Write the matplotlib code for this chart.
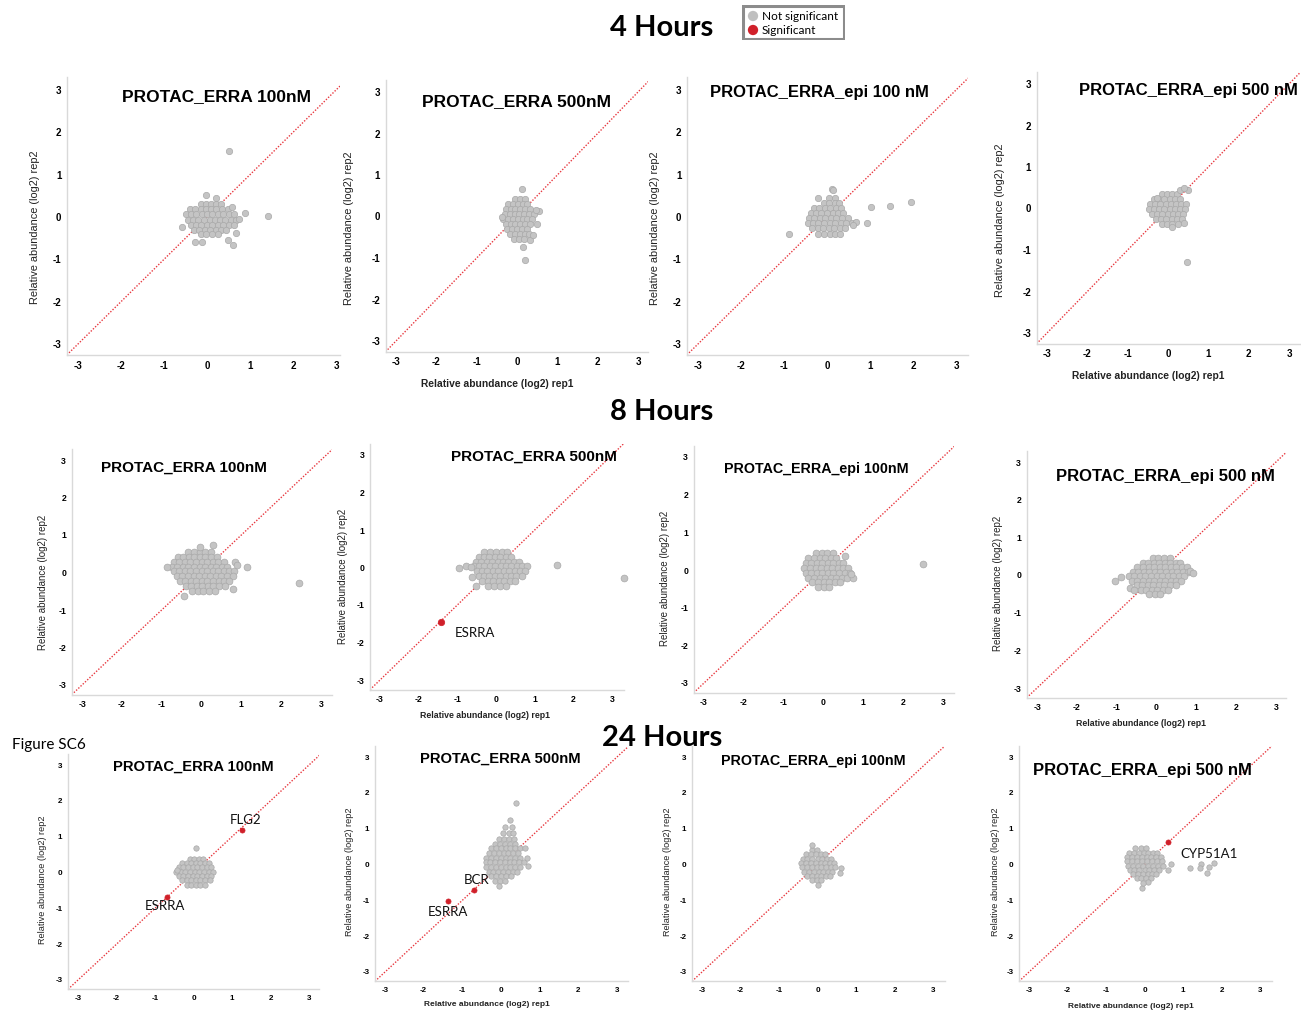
import matplotlib
matplotlib.use("Agg")
import matplotlib.pyplot as plt
from matplotlib.patches import Rectangle

W, H = 1301, 1011

# ---- values: x = log2 rep1, y = log2 rep2 ----
# dense clusters are stored as rows: (rep2, [rep1 values along that row])

# 4 hours
h4_erra100_rows = [
    (0.30, [-0.15, -0.02, 0.1, 0.2, 0.32]),
    (0.18, [-0.4, -0.28, -0.15, -0.03, 0.1, 0.22, 0.35, 0.48]),
    (0.06, [-0.5, -0.38, -0.25, -0.12, 0.0, 0.12, 0.25, 0.38, 0.5, 0.62]),
    (-0.06, [-0.45, -0.32, -0.2, -0.07, 0.06, 0.18, 0.3, 0.43, 0.55, 0.68]),
    (-0.18, [-0.38, -0.26, -0.13, 0.0, 0.12, 0.25, 0.37, 0.5, 0.62]),
    (-0.30, [-0.3, -0.18, -0.05, 0.08, 0.2, 0.33, 0.45]),
    (-0.40, [-0.15, -0.02, 0.12, 0.25]),
]
h4_erra100_out = [(0.52, 1.56), (-0.03, 0.53), (0.22, 0.45), (1.42, 0.02), (0.88, 0.1),
                  (0.58, 0.23), (-0.58, -0.24), (-0.27, -0.6), (-0.12, -0.6), (0.6, -0.66),
                  (0.48, -0.55), (0.68, -0.37), (0.75, -0.05)]

h4_erra500_rows = [
    (0.42, [-0.05, 0.08, 0.2]),
    (0.30, [-0.22, -0.1, 0.02, 0.14, 0.26]),
    (0.18, [-0.28, -0.16, -0.04, 0.08, 0.2, 0.32]),
    (0.06, [-0.3, -0.18, -0.06, 0.06, 0.18, 0.3, 0.42]),
    (-0.06, [-0.35, -0.22, -0.1, 0.02, 0.14, 0.26, 0.38]),
    (-0.18, [-0.28, -0.16, -0.04, 0.08, 0.2, 0.32]),
    (-0.30, [-0.25, -0.12, 0.0, 0.12, 0.24]),
    (-0.42, [-0.18, -0.05, 0.08, 0.2, 0.3]),
    (-0.54, [-0.08, 0.06, 0.18]),
]
h4_erra500_out = [(0.12, 0.66), (0.2, -1.06), (0.55, 0.14), (0.48, 0.16), (0.5, -0.19),
                  (0.16, -0.73), (0.32, -0.57), (-0.38, 0.0), (0.4, -0.45)]

h4_epi100_rows = [
    (0.45, [0.05, 0.18]),
    (0.33, [-0.08, 0.05, 0.18, 0.28]),
    (0.21, [-0.3, -0.18, -0.05, 0.08, 0.2, 0.32]),
    (0.09, [-0.38, -0.26, -0.13, 0.0, 0.13, 0.26, 0.38]),
    (-0.03, [-0.42, -0.3, -0.17, -0.04, 0.09, 0.22, 0.35, 0.48]),
    (-0.15, [-0.45, -0.33, -0.2, -0.07, 0.06, 0.19, 0.32, 0.45, 0.58]),
    (-0.27, [-0.35, -0.22, -0.09, 0.04, 0.17, 0.3, 0.43]),
    (-0.39, [-0.2, -0.07, 0.06, 0.19, 0.3]),
]
h4_epi100_out = [(-0.88, -0.39), (1.02, 0.24), (1.47, 0.26), (1.95, 0.35), (0.93, -0.13),
                 (0.11, 0.66), (0.15, 0.63), (-0.2, 0.46), (0.67, -0.11), (0.6, -0.2)]

h4_epi500_rows = [
    (0.35, [-0.15, -0.02, 0.1, 0.22]),
    (0.23, [-0.35, -0.22, -0.09, 0.04, 0.17, 0.3]),
    (0.11, [-0.45, -0.32, -0.19, -0.06, 0.07, 0.2, 0.33, 0.45]),
    (-0.01, [-0.48, -0.35, -0.22, -0.09, 0.04, 0.17, 0.3, 0.43]),
    (-0.13, [-0.4, -0.27, -0.14, -0.01, 0.12, 0.25, 0.38]),
    (-0.25, [-0.3, -0.17, -0.04, 0.09, 0.22, 0.34]),
    (-0.37, [-0.15, -0.02, 0.11, 0.24]),
]
h4_epi500_out = [(0.46, -1.3), (0.3, 0.45), (0.5, 0.45), (0.4, 0.5), (-0.28, 0.26),
                 (0.4, -0.34), (0.1, -0.45)]

# 8 hours
h8_erra100_rows = [
    (0.55, [-0.35, -0.2, -0.05, 0.1, 0.25]),
    (0.42, [-0.6, -0.46, -0.32, -0.18, -0.04, 0.1, 0.24, 0.38]),
    (0.29, [-0.7, -0.56, -0.42, -0.28, -0.14, 0.0, 0.14, 0.28, 0.42, 0.56]),
    (0.16, [-0.75, -0.61, -0.47, -0.33, -0.19, -0.05, 0.09, 0.23, 0.37, 0.51, 0.65]),
    (0.03, [-0.7, -0.56, -0.42, -0.28, -0.14, 0.0, 0.14, 0.28, 0.42, 0.56, 0.7, 0.82]),
    (-0.10, [-0.62, -0.48, -0.34, -0.2, -0.06, 0.08, 0.22, 0.36, 0.5, 0.64, 0.78]),
    (-0.23, [-0.55, -0.41, -0.27, -0.13, 0.01, 0.15, 0.29, 0.43, 0.57, 0.7]),
    (-0.36, [-0.4, -0.26, -0.12, 0.02, 0.16, 0.3, 0.44, 0.58]),
    (-0.48, [-0.25, -0.1, 0.05, 0.2, 0.35]),
]
h8_erra100_out = [(2.46, -0.27), (1.14, 0.14), (0.28, 0.73), (-0.05, 0.67), (-0.87, 0.14),
                  (-0.44, -0.63), (0.79, -0.45), (0.85, 0.29), (0.88, 0.2)]

h8_erra500_rows = [
    (0.42, [-0.3, -0.15, 0.0, 0.15, 0.28]),
    (0.29, [-0.45, -0.31, -0.17, -0.03, 0.11, 0.25, 0.39]),
    (0.16, [-0.52, -0.38, -0.24, -0.1, 0.04, 0.18, 0.32, 0.46, 0.6]),
    (0.03, [-0.58, -0.44, -0.3, -0.16, -0.02, 0.12, 0.26, 0.4, 0.54, 0.68, 0.8]),
    (-0.10, [-0.5, -0.36, -0.22, -0.08, 0.06, 0.2, 0.34, 0.48, 0.62, 0.74]),
    (-0.23, [-0.45, -0.31, -0.17, -0.03, 0.11, 0.25, 0.39, 0.53, 0.66]),
    (-0.36, [-0.35, -0.21, -0.07, 0.07, 0.21, 0.35, 0.5]),
    (-0.48, [-0.2, -0.05, 0.1, 0.25]),
]
h8_erra500_out = [(3.31, -0.27), (1.58, 0.07), (-0.95, 0.0), (-0.78, 0.05), (-0.65, 0.02),
                  (-0.63, -0.26), (-0.52, -0.5)]

h8_epi100_rows = [
    (0.45, [-0.2, -0.05, 0.1, 0.25]),
    (0.32, [-0.38, -0.24, -0.1, 0.04, 0.18, 0.32]),
    (0.19, [-0.45, -0.31, -0.17, -0.03, 0.11, 0.25, 0.39, 0.5]),
    (0.06, [-0.48, -0.34, -0.2, -0.06, 0.08, 0.22, 0.36, 0.5, 0.62]),
    (-0.07, [-0.45, -0.31, -0.17, -0.03, 0.11, 0.25, 0.39, 0.53, 0.66]),
    (-0.20, [-0.38, -0.24, -0.1, 0.04, 0.18, 0.32, 0.46, 0.6]),
    (-0.33, [-0.28, -0.14, 0.0, 0.14, 0.28, 0.42]),
    (-0.44, [-0.15, 0.0, 0.15]),
]
h8_epi100_out = [(2.49, 0.15), (0.53, 0.38), (0.75, -0.22), (0.7, -0.1)]

h8_epi500_rows = [
    (0.45, [-0.1, 0.05, 0.2, 0.35]),
    (0.33, [-0.35, -0.21, -0.07, 0.07, 0.21, 0.35, 0.49, 0.6]),
    (0.21, [-0.48, -0.34, -0.2, -0.06, 0.08, 0.22, 0.36, 0.5, 0.64, 0.76]),
    (0.09, [-0.6, -0.46, -0.32, -0.18, -0.04, 0.1, 0.24, 0.38, 0.52, 0.66, 0.8]),
    (-0.03, [-0.7, -0.56, -0.42, -0.28, -0.14, 0.0, 0.14, 0.28, 0.42, 0.56, 0.7]),
    (-0.15, [-0.62, -0.48, -0.34, -0.2, -0.06, 0.08, 0.22, 0.36, 0.5, 0.62]),
    (-0.27, [-0.5, -0.36, -0.22, -0.08, 0.06, 0.2, 0.34, 0.48]),
    (-0.39, [-0.4, -0.26, -0.12, 0.02, 0.16, 0.3]),
    (-0.50, [-0.2, -0.05, 0.1]),
]
h8_epi500_out = [(-1.03, -0.16), (-0.88, -0.04), (-0.67, -0.35), (-0.57, -0.4),
                 (0.85, 0.11), (0.92, 0.05)]

# 24 hours
h24_erra100_rows = [
    (0.38, [-0.1, 0.02, 0.14, 0.25]),
    (0.26, [-0.3, -0.18, -0.06, 0.06, 0.18, 0.3, 0.4]),
    (0.14, [-0.38, -0.26, -0.14, -0.02, 0.1, 0.22, 0.34, 0.45]),
    (0.02, [-0.45, -0.33, -0.21, -0.09, 0.03, 0.15, 0.27, 0.39, 0.5]),
    (-0.10, [-0.38, -0.26, -0.14, -0.02, 0.1, 0.22, 0.34, 0.46]),
    (-0.22, [-0.3, -0.18, -0.06, 0.06, 0.18, 0.3, 0.42]),
    (-0.34, [-0.18, -0.06, 0.06, 0.18, 0.3]),
]
h24_erra100_out = [(0.06, 0.68), (-0.42, 0.06)]

h24_erra500_rows = [
    (1.24, [0.23]),
    (1.05, [0.1, 0.28]),
    (0.88, [0.05, 0.2, 0.32]),
    (0.72, [-0.05, 0.08, 0.2, 0.33]),
    (0.58, [-0.15, -0.02, 0.1, 0.22, 0.35]),
    (0.45, [-0.25, -0.12, 0.0, 0.12, 0.24, 0.36, 0.48]),
    (0.32, [-0.3, -0.18, -0.05, 0.07, 0.19, 0.31, 0.43]),
    (0.19, [-0.38, -0.25, -0.12, 0.0, 0.12, 0.24, 0.36, 0.5]),
    (0.06, [-0.4, -0.28, -0.15, -0.02, 0.1, 0.22, 0.34, 0.47, 0.6]),
    (-0.07, [-0.38, -0.25, -0.12, 0.0, 0.12, 0.24, 0.37, 0.5]),
    (-0.20, [-0.32, -0.2, -0.07, 0.06, 0.18, 0.3, 0.42]),
    (-0.33, [-0.25, -0.12, 0.0, 0.12, 0.25]),
    (-0.46, [-0.15, -0.02, 0.1]),
]
h24_erra500_out = [(0.39, 1.72), (0.67, 0.18), (0.62, 0.45), (0.7, -0.05), (-0.05, -0.6)]

h24_epi100_rows = [
    (0.40, [-0.15, -0.02]),
    (0.28, [-0.3, -0.18, -0.05, 0.08, 0.2]),
    (0.16, [-0.38, -0.26, -0.13, 0.0, 0.12, 0.24, 0.35]),
    (0.04, [-0.42, -0.3, -0.17, -0.04, 0.08, 0.2, 0.32, 0.44]),
    (-0.08, [-0.4, -0.28, -0.15, -0.02, 0.1, 0.22, 0.34, 0.46]),
    (-0.20, [-0.34, -0.22, -0.09, 0.03, 0.15, 0.27, 0.38]),
    (-0.32, [-0.28, -0.15, -0.02, 0.1, 0.22, 0.32]),
    (-0.44, [-0.15, -0.02, 0.1]),
]
h24_epi100_out = [(-0.13, 0.55), (0.6, -0.1), (0.58, -0.25), (0.0, -0.58)]

h24_epi500_rows = [
    (0.45, [-0.25, -0.1, 0.05]),
    (0.33, [-0.4, -0.28, -0.15, -0.02, 0.1, 0.22, 0.32]),
    (0.21, [-0.45, -0.33, -0.2, -0.07, 0.06, 0.18, 0.3, 0.42]),
    (0.09, [-0.45, -0.32, -0.19, -0.06, 0.07, 0.2, 0.33, 0.45]),
    (-0.03, [-0.42, -0.3, -0.17, -0.04, 0.09, 0.22, 0.35, 0.47]),
    (-0.15, [-0.38, -0.26, -0.13, 0.0, 0.12, 0.25, 0.37]),
    (-0.27, [-0.3, -0.18, -0.05, 0.08, 0.2, 0.3]),
    (-0.38, [-0.2, -0.08, 0.05, 0.18]),
]
h24_epi500_out = [(0.7, 0.02), (0.62, -0.16), (1.19, -0.09), (1.47, 0.02), (1.43, -0.09),
                  (1.68, -0.07), (1.81, 0.05), (1.62, -0.23), (-0.07, -0.65), (0.1, -0.5),
                  (-0.03, -0.51)]

# significant proteins (x, y) and their labels
h8_erra500_sig = [(-1.42, -1.45)]
h8_erra500_sig_names = ["ESRRA"]
h24_erra100_sig = [(1.27, 1.2), (-0.7, -0.67)]
h24_erra100_sig_names = ["FLG2", "ESRRA"]
h24_erra500_sig = [(-0.7, -0.71), (-1.37, -1.02)]
h24_erra500_sig_names = ["BCR", "ESRRA"]
h24_epi500_sig = [(0.62, 0.64)]
h24_epi500_sig_names = ["CYP51A1"]

titles = ["PROTAC_ERRA 100nM", "PROTAC_ERRA 500nM", "PROTAC_ERRA_epi 100 nM", "PROTAC_ERRA_epi 500 nM",
          "PROTAC_ERRA 100nM", "PROTAC_ERRA 500nM", "PROTAC_ERRA_epi 100nM", "PROTAC_ERRA_epi 500 nM",
          "PROTAC_ERRA 100nM", "PROTAC_ERRA 500nM", "PROTAC_ERRA_epi 100nM", "PROTAC_ERRA_epi 500 nM"]
hour_labels = ["4 Hours", "8 Hours", "24 Hours"]
tick_vals = [-3, -2, -1, 0, 1, 2, 3]

GREY = "#c4c4c4"
GREY_EDGE = "#a9a9a9"
RED = "#d0202a"
ARIAL = "Liberation Sans"
CALIBRI = "Lato"


def expand(rows):
    pts = []
    for yv, xs in rows:
        for xv in xs:
            pts.append((xv, yv))
    return pts


def px(x, y):
    return x / W, 1 - y / H


fig = plt.figure(figsize=(W / 100, H / 100), dpi=100)

# panel layout in pixels: x of -3, x of 3, y of 3, y of -3, end of diagonal
layout = [
    (78, 336, 90, 344, 3.1), (396, 638, 92, 341, 3.25), (698, 956, 90, 344, 3.28), (1047, 1289, 84, 333, 3.28),
    (82, 321, 460, 685, 3.28), (380, 612, 455, 680, 3.3), (704, 943, 457, 683, 3.28), (1037, 1276, 462, 688, 3.25),
    (78, 309, 765, 980, 3.27), (385, 617, 757, 972, 3.28), (702, 933, 757, 972, 3.3), (1029, 1260, 757, 972, 3.31),
]
# title centre (px), title size
title_pos = [(216, 97, 12.5), (517, 102, 12.5), (819, 92, 12.0), (1188, 90, 12.0),
             (184, 468, 11.0), (534, 457, 11.0), (816, 469, 10.3), (1165, 476, 12.0),
             (193, 767, 10.6), (500, 759, 10.6), (813, 761, 10.3), (1142, 771, 12.0)]
ylab_pos = [(35, 227), (349, 228), (655, 228), (1000, 220),
            (43, 582), (343, 576), (665, 578), (998, 583),
            (43, 880), (350, 872), (667, 872), (995, 872)]
xlab_pos = {1: (497, 384), 3: (1148, 376), 5: (485, 716), 7: (1141, 723), 9: (487, 1005), 11: (1131, 1006)}
row_font = [(7.0, 7.9, 7.4, 21), (6.2, 7.0, 6.3, 24), (5.8, 6.6, 6.0, 15)]

data = [
    (h4_erra100_rows, h4_erra100_out, [], []),
    (h4_erra500_rows, h4_erra500_out, [], []),
    (h4_epi100_rows, h4_epi100_out, [], []),
    (h4_epi500_rows, h4_epi500_out, [], []),
    (h8_erra100_rows, h8_erra100_out, [], []),
    (h8_erra500_rows, h8_erra500_out, h8_erra500_sig, h8_erra500_sig_names),
    (h8_epi100_rows, h8_epi100_out, [], []),
    (h8_epi500_rows, h8_epi500_out, [], []),
    (h24_erra100_rows, h24_erra100_out, h24_erra100_sig, h24_erra100_sig_names),
    (h24_erra500_rows, h24_erra500_out, h24_erra500_sig, h24_erra500_sig_names),
    (h24_epi100_rows, h24_epi100_out, [], []),
    (h24_epi500_rows, h24_epi500_out, h24_epi500_sig, h24_epi500_sig_names),
]
# where the protein names sit (data units, ha)
sig_text = {
    5: [(-1.06, -1.75, "left")],
    8: [(1.35, 1.47, "center"), (-0.73, -0.94, "center")],
    9: [(-0.62, -0.43, "center"), (-1.37, -1.33, "center")],
    11: [(0.94, 0.29, "left")],
}

lo = -3.26
for i, (xm3, x3, yp3, ym3, dend) in enumerate(layout):
    sx = (x3 - xm3) / 6
    sy = (ym3 - yp3) / 6
    left = xm3 + (lo + 3) * sx
    right = xm3 + (dend + 3) * sx
    bottom = ym3 - (lo + 3) * sy
    top = ym3 - (3.3 + 3) * sy
    ax = fig.add_axes([left / W, 1 - bottom / H, (right - left) / W, (bottom - top) / H])
    ax.set_xlim(lo, dend)
    ax.set_ylim(lo, 3.3)
    for s in ["top", "right"]:
        ax.spines[s].set_visible(False)
    for s in ["left", "bottom"]:
        ax.spines[s].set_color("#d9d9d9")
        ax.spines[s].set_linewidth(1.0)
    tick_fs, ylab_fs, xlab_fs, msize = row_font[i // 4]
    ax.set_xticks(tick_vals)
    ax.set_yticks(tick_vals)
    ax.set_xticklabels([str(t) for t in tick_vals], fontsize=tick_fs, fontweight="bold", family=ARIAL)
    ax.set_yticklabels([str(t) for t in tick_vals], fontsize=tick_fs, fontweight="bold", family=ARIAL)
    ax.tick_params(length=0, pad=4)

    ax.plot([lo, dend], [lo, dend], color="#e8383f", lw=1.0, ls=(0, (1, 1.2)), zorder=1)

    rows, out, sig, names = data[i]
    pts = expand(rows) + out
    ax.scatter([p[0] for p in pts], [p[1] for p in pts], s=msize, c=GREY,
               edgecolors=GREY_EDGE, linewidths=0.5, zorder=2, clip_on=False)
    if sig:
        ax.scatter([p[0] for p in sig], [p[1] for p in sig], s=msize * 0.9, c=RED,
                   edgecolors=RED, linewidths=0.5, zorder=3, clip_on=False)
        for (tx, ty, ha), name in zip(sig_text[i], names):
            ax.text(tx, ty, name, fontsize=9.5, family=CALIBRI, ha=ha, va="center", color="#111111")

    tx, ty, tsize = title_pos[i]
    fig.text(*px(tx, ty), titles[i], fontsize=tsize, fontweight="bold", family=ARIAL,
             ha="center", va="center")
    lx, ly = ylab_pos[i]
    fig.text(*px(lx, ly), "Relative abundance (log2) rep2", fontsize=ylab_fs, family=ARIAL,
             rotation=90, ha="center", va="center", color="#222222")
    if i in xlab_pos:
        xx, xy = xlab_pos[i]
        fig.text(*px(xx, xy), "Relative abundance (log2) rep1", fontsize=xlab_fs,
                 fontweight="bold", family=ARIAL, ha="center", va="center", color="#222222")

# hour headers
for lab, yy in zip(hour_labels, [28, 412, 738]):
    fig.text(*px(662, yy), lab, fontsize=21, fontweight="bold", family=CALIBRI, ha="center", va="center")
fig.text(*px(12, 745), "Figure SC6", fontsize=11, family=CALIBRI, ha="left", va="center")

# legend box
lax = fig.add_axes([742 / W, 1 - 40 / H, 103 / W, 35 / H])
lax.set_xlim(0, 103)
lax.set_ylim(35, 0)
lax.axis("off")
lax.add_patch(Rectangle((1, 1), 101, 33, fill=False, edgecolor="#8c8c8c", lw=2.2))
lax.scatter([11], [11], s=55, c="#c0c0c0", edgecolors="none")
lax.scatter([11], [25], s=55, c=RED, edgecolors="none")
lax.text(20, 11, "Not significant", fontsize=8.5, family=CALIBRI, va="center", ha="left")
lax.text(20, 25, "Significant", fontsize=8.5, family=CALIBRI, va="center", ha="left")

fig.savefig("out.png", dpi=100)
